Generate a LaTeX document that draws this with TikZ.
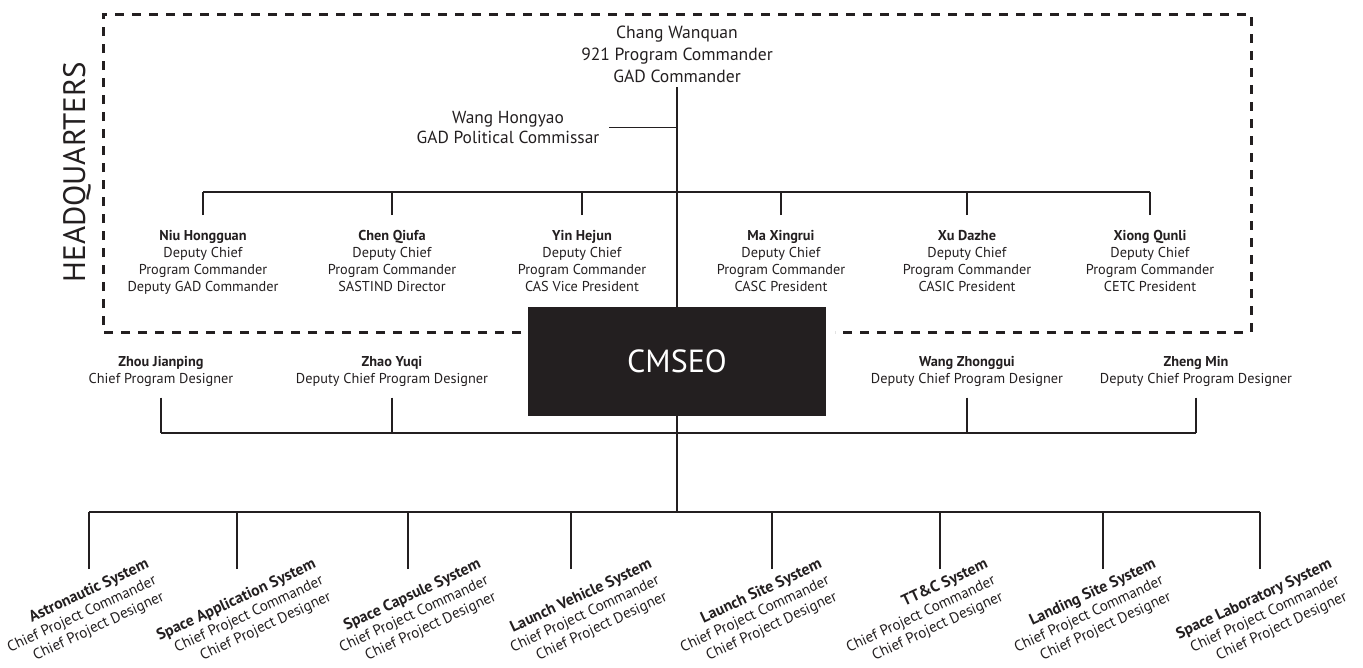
\documentclass[tikz,border=0pt]{standalone}
\usepackage{fontspec}
\setmainfont{PT Sans}
\definecolor{ink}{HTML}{231F20}
\newcommand{\sysname}[1]{{\fontsize{15.8}{18}\selectfont\textbf{#1}}}
\begin{document}
\begin{tikzpicture}[x=1pt,y=1pt,
  line/.style={draw=ink, line width=1.4pt},
  hqline/.style={draw=ink, line width=3pt, dash pattern=on 9pt off 8pt},
  top/.style={align=center, inner sep=0pt, anchor=north, text=ink, font=\fontsize{17.6}{22}\selectfont},
  dep/.style={align=center, inner sep=0pt, anchor=north, text=ink, font=\fontsize{14.3}{17}\selectfont},
  sys/.style={rotate=25, align=right, anchor=north east, inner sep=0pt, text=ink, font=\fontsize{15}{18}\selectfont},
  boss/.style={fill=ink, text=white, minimum width=298pt, minimum height=109pt, inner sep=0pt, font=\fontsize{32}{36}\selectfont}]
\useasboundingbox (0,0) rectangle (1363,-667);
% headquarters frame
\draw[hqline] (521,-332) -- (103,-332) -- (103,-14) -- (1251,-14) -- (1251,-332) -- (835,-332);
\node[rotate=90, text=ink, inner sep=0pt, font=\fontsize{31}{34}\selectfont] (hq) at (77,-172) {HEADQUARTERS};
% top
\node[top] (chang) at (677,-26) {Chang Wanquan\\921 Program Commander\\GAD Commander};
\node[top, font=\fontsize{17.4}{20}\selectfont] (wang) at (508,-111) {Wang Hongyao\\GAD Political Commissar};
% deputies
\node[dep] (d1) at (203,-230) {\textbf{Niu Hongguan}\\Deputy Chief\\Program Commander\\Deputy GAD Commander};
\node[dep] (d2) at (392,-230) {\textbf{Chen Qiufa}\\Deputy Chief\\Program Commander\\SASTIND Director};
\node[dep] (d3) at (582,-230) {\textbf{Yin Hejun}\\Deputy Chief\\Program Commander\\CAS Vice President};
\node[dep] (d4) at (781,-230) {\textbf{Ma Xingrui}\\Deputy Chief\\Program Commander\\CASC President};
\node[dep] (d5) at (967,-230) {\textbf{Xu Dazhe}\\Deputy Chief\\Program Commander\\CASIC President};
\node[dep] (d6) at (1150,-230) {\textbf{Xiong Qunli}\\Deputy Chief\\Program Commander\\CETC President};
% CMSEO
\node[boss] (cmseo) at (677,-361.5) {CMSEO};
% designers
\node[dep] (p1) at (161,-356) {\textbf{Zhou Jianping}\\Chief Program Designer};
\node[dep] (p2) at (392,-356) {\textbf{Zhao Yuqi}\\Deputy Chief Program Designer};
\node[dep] (p3) at (967,-356) {\textbf{Wang Zhonggui}\\Deputy Chief Program Designer};
\node[dep] (p4) at (1196,-356) {\textbf{Zheng Min}\\Deputy Chief Program Designer};
% systems
\node[sys] (s1) at (145,-557) {\sysname{Astronautic System}\\Chief Project Commander\\Chief Project Designer};
\node[sys] (s2) at (312,-557) {\sysname{Space Application System}\\Chief Project Commander\\Chief Project Designer};
\node[sys] (s3) at (477,-557) {\sysname{Space Capsule System}\\Chief Project Commander\\Chief Project Designer};
\node[sys] (s4) at (648,-557) {\sysname{Launch Vehicle System}\\Chief Project Commander\\Chief Project Designer};
\node[sys] (s5) at (818,-557) {\sysname{Launch Site System}\\Chief Project Commander\\Chief Project Designer};
\node[sys] (s6) at (984,-557) {\sysname{TT\&C System}\\Chief Project Commander\\Chief Project Designer};
\node[sys] (s7) at (1152,-557) {\sysname{Landing Site System}\\Chief Project Commander\\Chief Project Designer};
\node[sys] (s8) at (1328,-557) {\sysname{Space Laboratory System}\\Chief Project Commander\\Chief Project Designer};
% junction coordinates
\coordinate (hqbar) at (677,-192);
\coordinate (pbar) at (677,-433);
\coordinate (sbar) at (677,-512);
\coordinate (t1) at (89,-569);
\coordinate (t2) at (237,-569);
\coordinate (t3) at (408,-569);
\coordinate (t4) at (571,-569);
\coordinate (t5) at (772,-569);
\coordinate (t6) at (940,-569);
\coordinate (t7) at (1103,-569);
\coordinate (t8) at (1260,-569);
% connectors
\draw[line] ([yshift=-4pt]chang.south) -- (cmseo.north);
\draw[line] ([xshift=10pt]wang.east) -- (wang.east -| cmseo.north);
\draw[line] (d1.north |- hqbar) -- (d6.north |- hqbar);
\foreach \d in {d1,d2,d3,d4,d5,d6}{
  \draw[line] ([yshift=15pt]\d.north) -- (\d.north |- hqbar);
}
\draw[line] (cmseo.south) -- (cmseo.south |- sbar);
\draw[line] (p1.south |- pbar) -- (p4.south |- pbar);
\foreach \p in {p1,p2,p3,p4}{
  \draw[line] ([yshift=-11pt]\p.south) -- (\p.south |- pbar);
}
\draw[line] (t1 |- sbar) -- (t8 |- sbar);
\foreach \t in {t1,t2,t3,t4,t5,t6,t7,t8}{
  \draw[line] (\t) -- (\t |- sbar);
}
\end{tikzpicture}
\end{document}
